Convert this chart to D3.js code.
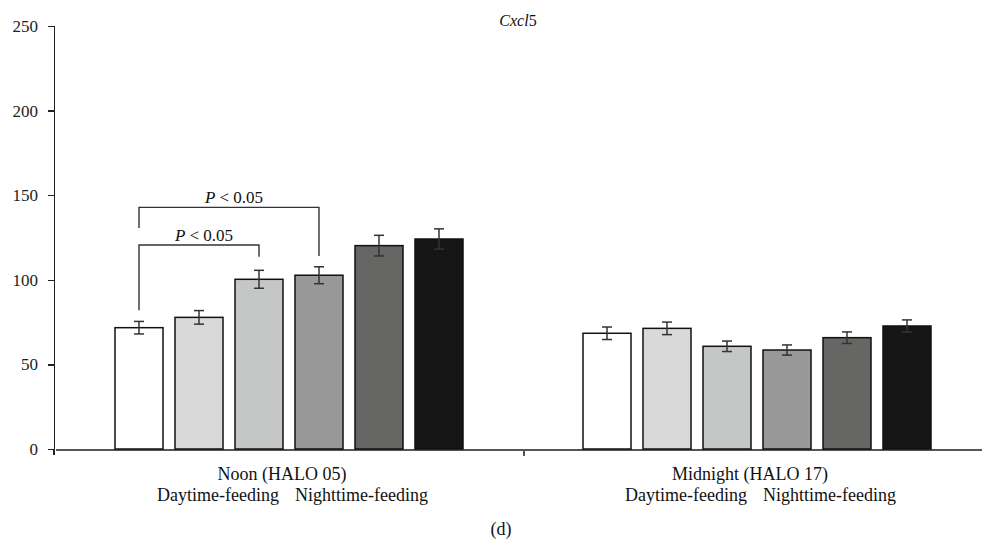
<!DOCTYPE html>
<html>
<head>
<meta charset="utf-8">
<title>Cxcl5</title>
<script src="https://d3js.org/d3.v7.min.js"></script>
<style>
  body { margin: 0; background: #fff; }
  text { font-family: "Liberation Serif", "DejaVu Serif", serif; fill: #111; }
  .axis path, .axis line { stroke: #222; stroke-width: 1.5; shape-rendering: crispEdges; }
  .xaxis path, .xaxis line { stroke: #555; stroke-width: 2; }
  .axis text { font-size: 17px; fill: #222; font-family: "Liberation Serif", serif; }
</style>
</head>
<body>
<script>
// data
var groups = ["Noon (HALO 05)", "Midnight (HALO 17)"];
var series = ["s1", "s2", "s3", "s4", "s5", "s6"];
var fills = ["#ffffff", "#d9d9d9", "#c5c7c6", "#999999", "#666664", "#161616"];
var means = [
  [71.7, 77.8, 100.3, 102.7, 120.2, 124.1],
  [68.4, 71.3, 60.7, 58.5, 65.8, 72.7]
];
var errs = [
  [3.7, 4.0, 5.3, 5.0, 6.1, 6.0],
  [3.7, 3.7, 3.1, 3.0, 3.4, 3.6]
];
var yTicks = [0, 50, 100, 150, 200, 250];
var subLabels = ["Daytime-feeding", "Nighttime-feeding"];
// significance brackets (noon group): bar indices, level and leg ends in y units
var brackets = [
  {from: 0, to: 2, level: 120.6, leftEnd: 82, rightEnd: 113.6, label: "< 0.05"},
  {from: 0, to: 3, level: 142.8, leftEnd: 130.6, rightEnd: 114, label: "< 0.05"}
];

var w = 982, h = 541;
var padL = 55, padR = 991, padT = 26, padB = 449;

var svg = d3.select("body").append("svg")
  .attr("width", w).attr("height", h);

var x0 = d3.scaleBand().domain(groups).range([padL, padR]);
var x1 = d3.scaleBand().domain(series).range([0, x0.bandwidth()])
  .paddingInner(0.2).paddingOuter(1);
var y = d3.scaleLinear().domain([0, 250]).range([padB, padT]);

// x axis, one tick between the groups
var xl = d3.scaleLinear().domain([0, 2]).range([padL, padR]);
svg.append("g").attr("class", "axis xaxis")
  .attr("transform", "translate(0," + padB + ")")
  .call(d3.axisBottom(xl).tickValues([1]).tickFormat("").tickSize(7).tickSizeOuter(0));

// y axis
var yAxis = d3.axisLeft(y).tickValues(yTicks).tickSize(6).tickSizeOuter(6).tickPadding(10);
var gy = svg.append("g").attr("class", "axis")
  .attr("transform", "translate(" + (padL - 1) + ",0)")
  .call(yAxis);
gy.append("line").attr("x1", 0).attr("x2", 0).attr("y1", padB).attr("y2", padB + 6);

// bars
var g = svg.selectAll(".grp").data(groups).enter().append("g")
  .attr("class", "grp")
  .attr("transform", function(d) { return "translate(" + x0(d) + ",0)"; });

g.selectAll("rect").data(function(d, i) {
    return series.map(function(s, j) { return {s: s, j: j, v: means[i][j], e: errs[i][j]}; });
  }).enter().append("rect")
  .attr("x", function(d) { return x1(d.s); })
  .attr("y", function(d) { return y(d.v); })
  .attr("width", x1.bandwidth())
  .attr("height", function(d) { return y(0) - y(d.v); })
  .attr("fill", function(d) { return fills[d.j]; })
  .attr("stroke", "#111")
  .attr("stroke-width", 1.5);

// error bars
var eb = g.selectAll(".err").data(function(d, i) {
    return series.map(function(s, j) { return {s: s, v: means[i][j], e: errs[i][j]}; });
  }).enter().append("g").attr("class", "err")
  .attr("stroke", "#333").attr("stroke-width", 1.5);
eb.append("line")
  .attr("x1", function(d) { return x1(d.s) + x1.bandwidth() / 2; })
  .attr("x2", function(d) { return x1(d.s) + x1.bandwidth() / 2; })
  .attr("y1", function(d) { return y(d.v - d.e); })
  .attr("y2", function(d) { return y(d.v + d.e); });
[-1, 1].forEach(function(sgn) {
  eb.append("line")
    .attr("x1", function(d) { return x1(d.s) + x1.bandwidth() / 2 - 5; })
    .attr("x2", function(d) { return x1(d.s) + x1.bandwidth() / 2 + 5; })
    .attr("y1", function(d) { return y(d.v + sgn * d.e); })
    .attr("y2", function(d) { return y(d.v + sgn * d.e); });
});

// significance brackets
var noon = x0(groups[0]);
function cx(j) { return noon + x1(series[j]) + x1.bandwidth() / 2; }
brackets.forEach(function(b) {
  var xa = cx(b.from), xb = cx(b.to);
  svg.append("path")
    .attr("d", "M" + xa + "," + y(b.leftEnd) + "V" + y(b.level) + "H" + xb + "V" + y(b.rightEnd))
    .attr("fill", "none").attr("stroke", "#333").attr("stroke-width", 1.4);
  var t = svg.append("text")
    .attr("x", (xa + xb) / 2 + 5).attr("y", y(b.level) - 4)
    .attr("text-anchor", "middle").attr("font-size", "17px");
  t.append("tspan").attr("font-style", "italic").text("P");
  t.append("tspan").text(" " + b.label);
});

// group labels
groups.forEach(function(gname) {
  var c = x0(gname) + x0.bandwidth() / 2;
  svg.append("text").attr("x", c - 7).attr("y", 479.5)
    .attr("text-anchor", "middle").attr("font-size", "18px").text(gname);
  svg.append("text").attr("x", c - 10).attr("y", 501)
    .attr("text-anchor", "end").attr("font-size", "18px").text(subLabels[0]);
  svg.append("text").attr("x", c + 6).attr("y", 501)
    .attr("text-anchor", "start").attr("font-size", "18px").text(subLabels[1]);
});

// title
var title = svg.append("text").attr("x", 518).attr("y", 26)
  .attr("text-anchor", "middle").attr("font-size", "16px");
title.append("tspan").attr("font-style", "italic").text("Cxcl");
title.append("tspan").text("5");

// panel letter
svg.append("text").attr("x", 501).attr("y", 535)
  .attr("text-anchor", "middle").attr("font-size", "18px").text("(d)");
</script>
</body>
</html>
